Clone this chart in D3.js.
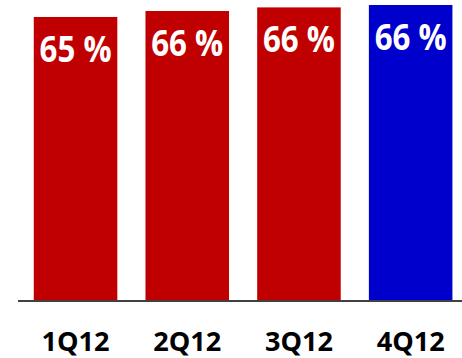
<!DOCTYPE html>
<html>
<head>
<meta charset="utf-8">
<script src="https://cdn.jsdelivr.net/npm/d3@7"></script>
<style>
  body { margin: 0; background: #fff; }
  svg { display: block; }
</style>
</head>
<body>
<div id="chart"></div>
<script>
// quarterly share values (labels show rounded %)
const quarters = ['1Q12', '2Q12', '3Q12', '4Q12'];
const shares = [65.2, 65.7, 66.0, 66.2];
const barColors = ['#C00000', '#C00000', '#C00000', '#0000CC'];

const width = 462, height = 358;
const baseline = 301;

const svg = d3.select('#chart')
  .append('svg')
  .attr('width', width)
  .attr('height', height);

const x = d3.scaleBand()
  .domain(quarters)
  .range([19.7, 466.5])
  .paddingInner(0.252)
  .paddingOuter(0.126);

// axis does not start at zero in the original
const y = d3.scaleLinear()
  .domain([41.5, 66.2])
  .range([baseline, 5]);

// bars
svg.selectAll('.bar')
  .data(shares)
  .enter()
  .append('rect')
  .attr('class', 'bar')
  .attr('x', (d, i) => x(quarters[i]))
  .attr('width', x.bandwidth())
  .attr('y', d => y(d))
  .attr('height', d => baseline - y(d))
  .attr('fill', (d, i) => barColors[i]);

// value labels inside the bars (narrow bold face, like Calibri)
svg.selectAll('.label')
  .data(shares)
  .enter()
  .append('text')
  .attr('class', 'label')
  .attr('x', (d, i) => x(quarters[i]) + x.bandwidth() / 2)
  .attr('y', d => y(d) + 45)
  .attr('text-anchor', 'middle')
  .attr('fill', '#fff')
  .attr('textLength', 72)
  .attr('lengthAdjust', 'spacingAndGlyphs')
  .style('font-family', '"Open Sans", "Liberation Sans", sans-serif')
  .style('font-weight', 'bold')
  .style('font-size', '35px')
  .text(d => `${Math.round(d)} %`);

// baseline
svg.append('line')
  .attr('x1', 18)
  .attr('x2', width)
  .attr('y1', baseline)
  .attr('y2', baseline)
  .attr('stroke', '#404040')
  .attr('stroke-width', 2);

// category labels
const xAxis = d3.axisBottom(x).tickSize(0).tickPadding(0);
const gx = svg.append('g')
  .attr('transform', `translate(0,${baseline})`)
  .call(xAxis);
gx.select('.domain').remove();
gx.selectAll('text')
  .attr('y', 50)
  .attr('dy', 0)
  .attr('fill', '#000')
  .attr('textLength', 68)
  .attr('lengthAdjust', 'spacingAndGlyphs')
  .style('font-family', '"Open Sans", "Liberation Sans", sans-serif')
  .style('font-weight', 'bold')
  .style('font-size', '27px');
</script>
</body>
</html>
